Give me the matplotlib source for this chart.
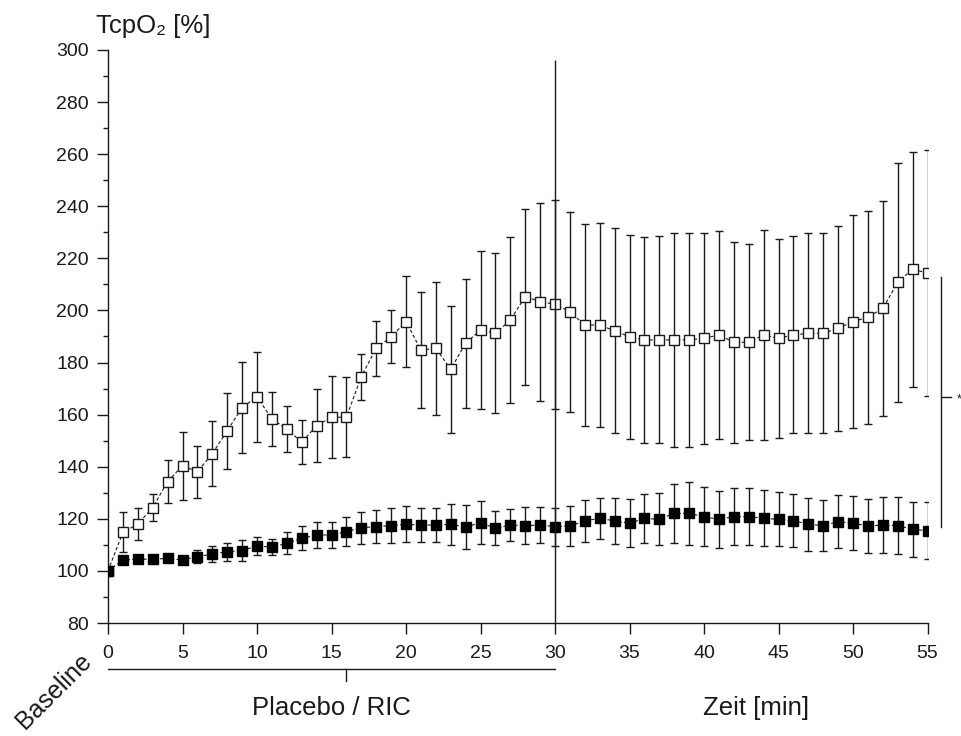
import matplotlib
matplotlib.use('Agg')
import matplotlib.pyplot as plt

plt.rcParams['font.family'] = ['Liberation Sans', 'DejaVu Sans']

# minutes after baseline
minutes = list(range(56))

# open squares (RIC) - mean and SD
ric_mean = [100.0, 114.8, 118.0, 124.3, 134.3, 140.4, 138.1, 145.0, 153.8, 162.7,
            166.9, 158.3, 154.5, 149.4, 155.8, 159.0, 159.0, 174.6, 185.5, 189.9,
            195.7, 184.8, 185.5, 177.4, 187.4, 192.5, 191.2, 196.3, 205.3, 203.4,
            202.4, 199.5, 194.4, 194.4, 192.2, 189.9, 188.7, 188.7, 188.7, 188.7,
            189.3, 190.6, 187.8, 187.8, 190.6, 189.3, 190.6, 191.2, 191.2, 193.2,
            195.7, 197.4, 200.8, 210.8, 215.9, 214.3]
ric_sd = [0.0, 7.7, 6.3, 5.1, 8.3, 13.1, 10.0, 12.5, 14.6, 17.5,
          17.3, 10.4, 8.8, 8.5, 14.0, 15.8, 15.4, 8.8, 10.5, 10.2,
          17.6, 22.4, 25.6, 24.4, 24.8, 30.4, 30.7, 32.0, 33.8, 38.0,
          40.1, 38.3, 38.9, 39.3, 39.4, 39.1, 39.4, 39.7, 41.2, 41.2,
          40.5, 39.8, 38.6, 37.7, 40.2, 38.3, 37.8, 38.4, 38.4, 39.4,
          41.0, 40.9, 41.3, 46.0, 45.1, 47.2]

# filled squares (Placebo)
plc_mean = [100.0, 104.2, 104.5, 104.5, 104.8, 104.2, 105.5, 106.4, 107.4, 107.8,
            109.6, 109.1, 110.6, 112.5, 113.8, 113.8, 115.1, 116.6, 117.0, 117.4,
            117.9, 117.6, 117.6, 117.9, 116.8, 118.5, 116.4, 117.6, 117.4, 117.6,
            117.0, 117.2, 119.2, 120.2, 119.2, 118.3, 120.2, 119.8, 122.1, 122.1,
            120.8, 119.8, 120.8, 120.8, 120.2, 119.8, 119.3, 117.9, 117.4, 118.9,
            118.3, 117.2, 117.6, 117.4, 116.0, 115.4]
plc_sd = [0.0, 1.0, 1.0, 1.0, 1.2, 1.5, 2.5, 3.0, 3.5, 3.9,
          3.6, 3.0, 4.2, 4.6, 5.0, 5.0, 5.6, 6.2, 6.2, 6.6,
          6.9, 6.6, 6.6, 7.8, 8.5, 8.3, 6.5, 6.2, 7.1, 6.8,
          7.3, 7.8, 8.1, 7.8, 8.9, 9.3, 9.5, 10.0, 11.3, 12.0,
          11.4, 11.0, 11.0, 11.0, 10.7, 10.4, 10.3, 10.1, 9.9, 10.2,
          10.4, 10.4, 10.6, 11.0, 10.6, 11.0]

ink = '#1a1a1a'
W, H = 961, 736

fig = plt.figure(figsize=(W / 100, H / 100), dpi=100)
ax = fig.add_axes([108 / W, 1 - 623 / H, (927.5 - 108) / W, (623 - 50) / H])

# error bars first, markers on top
ax.errorbar(minutes[1:], ric_mean[1:], yerr=ric_sd[1:], fmt='none', ecolor=ink,
            elinewidth=1.0, capsize=3, capthick=1.0, zorder=2)
ax.plot(minutes, ric_mean, ls=(0, (3, 2)), lw=0.8, color=ink, marker='s', ms=7,
        mfc='white', mec=ink, mew=1.0, zorder=3)
ax.errorbar(minutes[1:], plc_mean[1:], yerr=plc_sd[1:], fmt='none', ecolor=ink,
            elinewidth=1.0, capsize=3, capthick=1.0, zorder=4)
ax.plot(minutes, plc_mean, ls=(0, (3, 2)), lw=0.8, color=ink, marker='s', ms=6.5,
        mfc='black', mec='black', mew=1.0, zorder=5)

# end of intervention
ax.vlines(30, 80, 296, color=ink, lw=1.0, zorder=6)

ax.set_xlim(0, 55)
ax.set_ylim(80, 300)
ax.set_xticks(range(0, 56, 5))
ax.set_yticks(range(80, 301, 20))
ax.set_yticks(range(90, 300, 20), minor=True)
for s in ['top', 'right']:
    ax.spines[s].set_visible(False)
for s in ['left', 'bottom']:
    ax.spines[s].set_linewidth(1.0)
    ax.spines[s].set_color(ink)
ax.tick_params(axis='y', which='major', length=7.6, width=1.0, pad=6,
               labelsize=14, colors=ink)
ax.tick_params(axis='y', which='minor', length=3.6, width=1.0, colors=ink)
ax.tick_params(axis='x', which='major', length=8, width=1.0, pad=7.5,
               labelsize=14, colors=ink)

# bracket under the x axis for the intervention phase
tr = ax.get_xaxis_transform()
ax.plot([0, 30], [-0.0808, -0.0808], color=ink, lw=1.0, transform=tr, clip_on=False)
ax.plot([16, 16], [-0.0808, -0.1007], color=ink, lw=1.0, transform=tr, clip_on=False)
ax.text(15, -0.1609, 'Placebo / RIC', transform=tr, ha='center', va='baseline',
        fontsize=18.5, color=ink)
ax.text(43.5, -0.1609, 'Zeit [min]', transform=tr, ha='center', va='baseline',
        fontsize=18.5, color=ink)
ax.text(-3.6, -0.119, 'Baseline', transform=tr, ha='center', va='center',
        rotation=45, rotation_mode='anchor', fontsize=18, color=ink)

# significance bracket on the right
ax.plot([55.9, 55.9], [117, 213], color=ink, lw=1.0, clip_on=False)
ax.plot([55.9, 56.6], [166.8, 166.8], color=ink, lw=1.0, clip_on=False)
fig.text(957 / W, 1 - 399 / H, '*', fontsize=9, ha='left', va='center', color=ink)

fig.text(95.7 / W, 1 - 33 / H, 'TcpO₂ [%]', fontsize=18.5, ha='left',
         va='baseline', color=ink)

fig.savefig('out.png', dpi=100)
